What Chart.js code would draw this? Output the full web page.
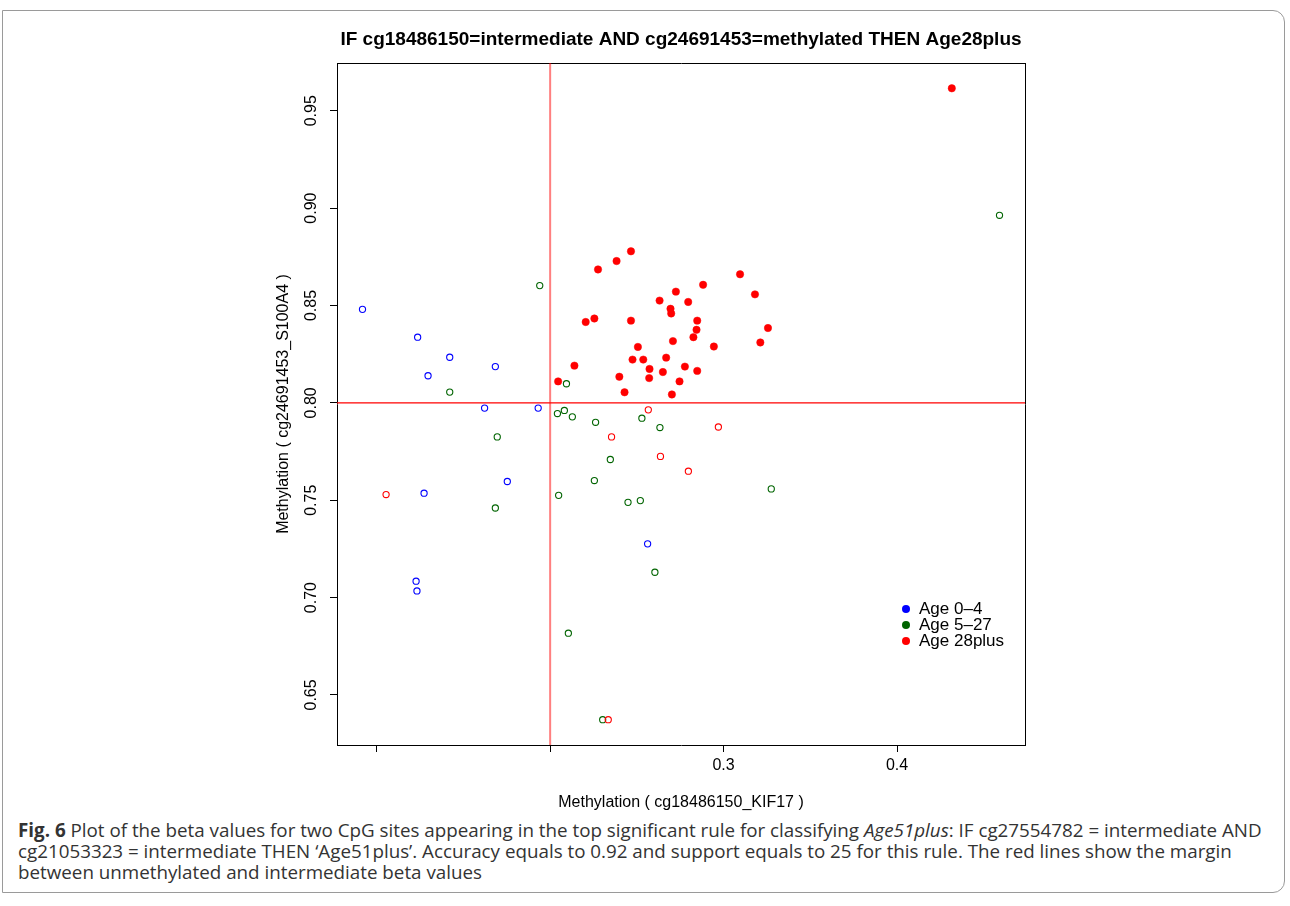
<!DOCTYPE html>
<html lang="en">
<head>
<meta charset="UTF-8">
<title>IF cg18486150=intermediate AND cg24691453=methylated THEN Age28plus</title>
<script src="https://cdn.jsdelivr.net/npm/chart.js"></script>
<style>
  body { margin: 0; background: #fff; font-family: "Liberation Sans", Arial, sans-serif; }
  #frame {
    position: absolute; left: 2px; top: 10px; width: 1281px; height: 881px;
    border: 1px solid #9a9a9a; border-top-right-radius: 12px; border-bottom-right-radius: 12px;
  }
  #wrap { position: absolute; left: 0; top: 0; width: 1290px; height: 815px; }
  #legend { position: absolute; left: 902px; top: 601px; font-size: 17px; color: #000; }
  #legend .row { height: 16px; line-height: 16px; white-space: nowrap; }
  #legend .dot { display: inline-block; width: 8px; height: 8px; border-radius: 50%; margin-right: 9px; vertical-align: 1px; }
  #caption {
    position: absolute; left: 18px; top: 820px; font-family: "Open Sans", sans-serif;
    font-size: 18.8px; line-height: 21px; color: #333; white-space: nowrap;
  }
</style>
</head>
<body>
<div id="frame"></div>
<div id="wrap"><canvas id="plot" width="1290" height="815"></canvas></div>
<div id="legend"></div>
<div id="caption">
  <b>Fig. 6</b> Plot of the beta values for two CpG sites appearing in the top significant rule for classifying <i>Age51plus</i>: IF cg27554782&nbsp;=&nbsp;intermediate AND<br>
  cg21053323&nbsp;=&nbsp;intermediate THEN ‘Age51plus’. Accuracy equals to 0.92 and support equals to 25 for this rule. The red lines show the margin<br>
  between unmethylated and intermediate beta values
</div>

<script>
// values
const age04X = [0.0918, 0.1236, 0.1421, 0.1684, 0.1296, 0.1622, 0.1931, 0.1273, 0.1753, 0.1227, 0.1232, 0.2562];
const age04Y = [0.848, 0.8337, 0.8234, 0.8186, 0.8139, 0.7973, 0.7973, 0.7536, 0.7596, 0.7084, 0.7034, 0.7276];

const age527X = [0.194, 0.1421, 0.2042, 0.2082, 0.2128, 0.2262, 0.2529, 0.2633, 0.2094, 0.1695, 0.2347,
                 0.2255, 0.2049, 0.1684, 0.2449, 0.252, 0.3275, 0.2604, 0.2105, 0.2303, 0.4591];
const age527Y = [0.8602, 0.8055, 0.7945, 0.7961, 0.7928, 0.790, 0.7921, 0.7873, 0.8098, 0.7825, 0.7709,
                 0.7601, 0.7525, 0.746, 0.7489, 0.7498, 0.7558, 0.713, 0.6817, 0.6373, 0.8963];

// Age28plus samples outside the rule (open) and inside it (filled)
const age28OutX = [0.1054, 0.2566, 0.297, 0.2354, 0.2636, 0.2797, 0.2335];
const age28OutY = [0.7529, 0.7964, 0.7876, 0.7825, 0.7725, 0.7649, 0.6373];

const age28InX = [0.2466, 0.2383, 0.2276, 0.3095, 0.2882, 0.3181, 0.2725, 0.2631, 0.2796, 0.2694, 0.2698,
                  0.2205, 0.2255, 0.2466, 0.2848, 0.2844, 0.3256, 0.2826, 0.3212, 0.2708, 0.2506, 0.2944,
                  0.2475, 0.2537, 0.2669, 0.214, 0.2573, 0.2777, 0.2848, 0.265, 0.2571, 0.2746, 0.2399,
                  0.2046, 0.2429, 0.2702, 0.4316];
const age28InY = [0.8778, 0.8728, 0.8685, 0.866, 0.8606, 0.8557, 0.8571, 0.8525, 0.8518, 0.8483, 0.8459,
                  0.8415, 0.8433, 0.8422, 0.8422, 0.8375, 0.8384, 0.8337, 0.831, 0.8317, 0.8287, 0.8289,
                  0.8222, 0.8222, 0.8232, 0.8191, 0.8174, 0.8186, 0.8164, 0.8158, 0.8127, 0.811, 0.8134,
                  0.811, 0.8054, 0.8043, 0.9615];

const cutX = 0.2;
const cutY = 0.8;

const xMin = 0.0771, xMax = 0.4738;
const yMin = 0.6243, yMax = 0.9745;

const xTicks = [0.1, 0.2, 0.3, 0.4];
const xTickLabels = ['', '', '0.3', '0.4'];
const yTicks = [0.65, 0.70, 0.75, 0.80, 0.85, 0.90, 0.95];
const yTickLabels = ['0.65', '0.70', '0.75', '0.80', '0.85', '0.90', '0.95'];

const legendLabels = ['Age 0\u20134', 'Age 5\u201327', 'Age 28plus'];
const legendColors = ['#0000ff', '#006400', '#ff0000'];

const FONT = '"Liberation Sans", Arial, sans-serif';

function pts(xs, ys) {
  return xs.map((x, i) => ({ x: x, y: ys[i] }));
}

function openPoints(label, xs, ys, col) {
  return {
    label: label, data: pts(xs, ys),
    pointStyle: 'circle', pointRadius: 3.1, pointBorderWidth: 1.1,
    pointBackgroundColor: 'rgba(0,0,0,0)', pointBorderColor: col,
    borderColor: col, backgroundColor: 'rgba(0,0,0,0)', showLine: false
  };
}

const tickFont = { family: FONT, size: 16 };

new Chart(document.getElementById('plot'), {
  type: 'scatter',
  data: {
    datasets: [
      {
        label: legendLabels[2], data: pts(age28InX, age28InY),
        pointStyle: 'circle', pointRadius: 3.7, pointBorderWidth: 0.5,
        pointBackgroundColor: '#ff0000', pointBorderColor: '#ff0000', showLine: false
      },
      openPoints(legendLabels[2] + ' (out)', age28OutX, age28OutY, '#ff0000'),
      openPoints(legendLabels[1], age527X, age527Y, '#006400'),
      openPoints(legendLabels[0], age04X, age04Y, '#0000ff'),
      {
        label: 'cut y', type: 'line', data: [{ x: xMin, y: cutY }, { x: xMax, y: cutY }],
        borderColor: '#ff0000', borderWidth: 1.2, pointRadius: 0, fill: false
      },
      {
        label: 'cut x', type: 'line', data: [{ x: cutX, y: yMin }, { x: cutX, y: yMax }],
        borderColor: 'rgba(255,0,0,0.5)', borderWidth: 2, pointRadius: 0, fill: false
      }
    ]
  },
  options: {
    responsive: false,
    animation: false,
    layout: { padding: { left: 270, right: 265, top: 20, bottom: 0 } },
    plugins: {
      legend: { display: false },
      tooltip: { enabled: false },
      title: {
        display: true, fullSize: false,
        text: 'IF cg18486150=intermediate AND cg24691453=methylated THEN Age28plus',
        color: '#000', font: { family: FONT, size: 19, weight: 'bold' },
        padding: { top: 8.5, bottom: 11.7 }
      }
    },
    scales: {
      x: {
        type: 'linear', position: 'bottom', min: xMin, max: xMax,
        afterBuildTicks: s => { s.ticks = xTicks.map(v => ({ value: v })); },
        afterFit: s => { s.height = 70; },
        ticks: {
          callback: (v, i) => xTickLabels[i], color: '#000', font: tickFont,
          padding: 4, autoSkip: false, maxRotation: 0
        },
        grid: { drawOnChartArea: false, drawTicks: true, tickLength: 7, color: '#000' },
        border: { display: true, color: '#000', width: 1 },
        title: {
          display: true, text: 'Methylation ( cg18486150_KIF17 )', color: '#000',
          font: tickFont, padding: { top: 0, bottom: 3 }
        }
      },
      y: {
        type: 'linear', position: 'left', min: yMin, max: yMax,
        afterBuildTicks: s => { s.ticks = yTicks.map(v => ({ value: v })); },
        afterFit: s => { s.width = 67; },
        ticks: {
          callback: (v, i) => yTickLabels[i], color: '#000', font: tickFont,
          padding: 3, autoSkip: false, minRotation: 90, maxRotation: 90, crossAlign: 'center'
        },
        grid: { drawOnChartArea: false, drawTicks: true, tickLength: 7, color: '#000' },
        border: { display: true, color: '#000', width: 1 },
        title: {
          display: true, text: 'Methylation ( cg24691453_S100A4 )', color: '#000',
          font: tickFont, padding: { top: 4, bottom: 0 }
        }
      },
      x2: {
        type: 'linear', position: 'top', min: xMin, max: xMax,
        afterFit: s => { s.height = 0; },
        ticks: { display: false },
        grid: { display: false, drawTicks: false },
        border: { display: true, color: '#000', width: 1 }
      },
      y2: {
        type: 'linear', position: 'right', min: yMin, max: yMax,
        afterFit: s => { s.width = 0; },
        ticks: { display: false },
        grid: { display: false, drawTicks: false },
        border: { display: true, color: '#000', width: 1 }
      }
    }
  }
});

// legend, R style (filled dots)
const legendBox = document.getElementById('legend');
legendLabels.forEach((txt, i) => {
  const row = document.createElement('div');
  row.className = 'row';
  const dot = document.createElement('span');
  dot.className = 'dot';
  dot.style.background = legendColors[i];
  row.appendChild(dot);
  row.appendChild(document.createTextNode(txt));
  legendBox.appendChild(row);
});
</script>
</body>
</html>
